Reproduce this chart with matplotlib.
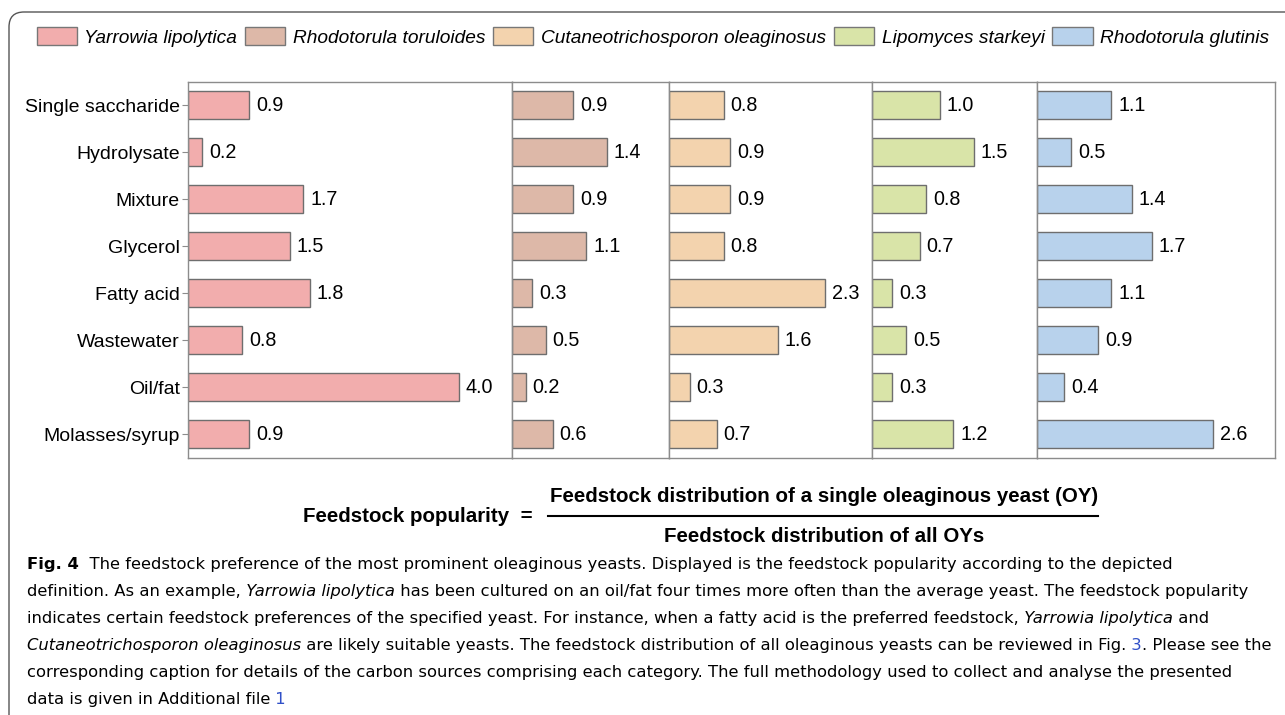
import matplotlib
matplotlib.use('Agg')
import matplotlib.pyplot as plt
from matplotlib.patches import Patch, FancyBboxPatch
from matplotlib.lines import Line2D
from matplotlib import font_manager

# data
feedstocks = ['Single saccharide', 'Hydrolysate', 'Mixture', 'Glycerol',
              'Fatty acid', 'Wastewater', 'Oil/fat', 'Molasses/syrup']
species = ['Yarrowia lipolytica', 'Rhodotorula toruloides',
           'Cutaneotrichosporon oleaginosus', 'Lipomyces starkeyi',
           'Rhodotorula glutinis']
yarrowia = [0.9, 0.2, 1.7, 1.5, 1.8, 0.8, 4.0, 0.9]
toruloides = [0.9, 1.4, 0.9, 1.1, 0.3, 0.5, 0.2, 0.6]
cutaneo = [0.8, 0.9, 0.9, 0.8, 2.3, 1.6, 0.3, 0.7]
starkeyi = [1.0, 1.5, 0.8, 0.7, 0.3, 0.5, 0.3, 1.2]
glutinis = [1.1, 0.5, 1.4, 1.7, 1.1, 0.9, 0.4, 2.6]
series = [yarrowia, toruloides, cutaneo, starkeyi, glutinis]

colors = ['#f2adad', '#ddb8a8', '#f3d3ae', '#d9e4a8', '#b8d2ec']
xmax = [4.79, 2.33, 3.0, 2.44, 3.52]  # panel widths in data units (same scale)

W, H = 1285, 715
plt.rcParams['font.family'] = ['Liberation Sans', 'DejaVu Sans']

fig = plt.figure(figsize=(W / 100, H / 100), dpi=100)
axes = fig.subplots(1, 5, sharey=True,
                    gridspec_kw={'width_ratios': xmax, 'wspace': 0})
fig.subplots_adjust(left=188.3 / W, right=1275 / W,
                    top=1 - 81.7 / H, bottom=1 - 457.7 / H)

for ax, vals, c, xm in zip(axes, series, colors, xmax):
    bars = ax.barh(range(len(feedstocks)), vals, height=0.6, color=c,
                   edgecolor='#6e6e6e', linewidth=1)
    ax.bar_label(bars, fmt='%.1f', padding=5, fontsize=14.2)
    ax.set_xlim(0, xm)
    ax.set_ylim(len(feedstocks) - 0.5, -0.5)
    ax.set_xticks([])
    for s in ax.spines.values():
        s.set_color('#8c8c8c')
        s.set_linewidth(1)
    ax.tick_params(axis='y', length=0)

axes[0].set_yticks(range(len(feedstocks)), feedstocks)
axes[0].tick_params(axis='y', length=4, color='#8c8c8c', labelsize=14, pad=2)

# legend on top
handles = [Patch(facecolor=c, edgecolor='#777777', linewidth=1) for c in colors]
fig.legend(handles, species, loc='center', bbox_to_anchor=(653 / W, 1 - 37 / H),
           ncol=5, frameon=False, prop={'style': 'italic', 'size': 13.8},
           handlelength=2.1, handleheight=1.0, handletextpad=0.4,
           columnspacing=0.4, borderaxespad=0)

# rounded frame around the figure
frame = FancyBboxPatch((0.09, -1), 14, 8.03,
                       boxstyle='round,pad=0,rounding_size=0.15',
                       transform=fig.dpi_scale_trans, fill=False,
                       edgecolor='#555555', linewidth=1)
fig.add_artist(frame)

# definition of feedstock popularity
fig.text(303 / W, 1 - 517 / H, 'Feedstock popularity  =', fontsize=14.8,
         fontweight='bold', ha='left', va='center')
fig.text(824 / W, 1 - 497 / H,
         'Feedstock distribution of a single oleaginous yeast (OY)',
         fontsize=14.8, fontweight='bold', ha='center', va='center')
fig.text(824 / W, 1 - 537 / H, 'Feedstock distribution of all OYs',
         fontsize=14.8, fontweight='bold', ha='center', va='center')
fig.add_artist(Line2D([548 / W, 1098 / W], [1 - 516 / H] * 2,
                      transform=fig.transFigure, color='black', linewidth=1.5))

# caption
names = {f.name for f in font_manager.fontManager.ttflist}
cap_font = 'Liberation Sans Narrow' if 'Liberation Sans Narrow' in names else 'DejaVu Sans'

caption = [
    [('Fig. 4', 'b'), ('  The feedstock preference of the most prominent oleaginous yeasts. '
                       'Displayed is the feedstock popularity according to the depicted', 'n')],
    [('definition. As an example,', 'n'), (' Yarrowia lipolytica', 'i'),
     (' has been cultured on an oil/fat four times more often than the average yeast. '
      'The feedstock popularity', 'n')],
    [('indicates certain feedstock preferences of the specified yeast. For instance, '
      'when a fatty acid is the preferred feedstock,', 'n'), (' Yarrowia lipolytica', 'i'),
     (' and', 'n')],
    [('Cutaneotrichosporon oleaginosus', 'i'),
     (' are likely suitable yeasts. The feedstock distribution of all oleaginous yeasts '
      'can be reviewed in Fig.', 'n'), (' 3', 'l'), ('. Please see the', 'n')],
    [('corresponding caption for details of the carbon sources comprising each category. '
      'The full methodology used to collect and analyse the presented', 'n')],
    [('data is given in Additional file', 'n'), (' 1', 'l')],
]

renderer = fig.canvas.get_renderer()


def piece_kw(style, size):
    kw = dict(fontsize=size, family=cap_font, va='baseline', ha='left')
    if style == 'b':
        kw['fontweight'] = 'bold'
    if style == 'i':
        kw['style'] = 'italic'
    if style == 'l':
        kw['color'] = '#3050c8'
    return kw


def draw_line(x, y, pieces, size):
    drawn = []
    for txt, style in pieces:
        t = fig.text(x / W, 1 - y / H, txt, **piece_kw(style, size))
        x += t.get_window_extent(renderer).width
        drawn.append(t)
    return x, drawn


# fit the caption size so that the widest line (4th) ends near the right edge
end, probes = draw_line(0, 0, caption[3], 10)
for t in probes:
    t.remove()
cap_size = min(15, 10 * 1245 / end)

for k, line in enumerate(caption):
    draw_line(27, 569 + 27 * k, line, cap_size)

fig.savefig('out.png', dpi=100)
